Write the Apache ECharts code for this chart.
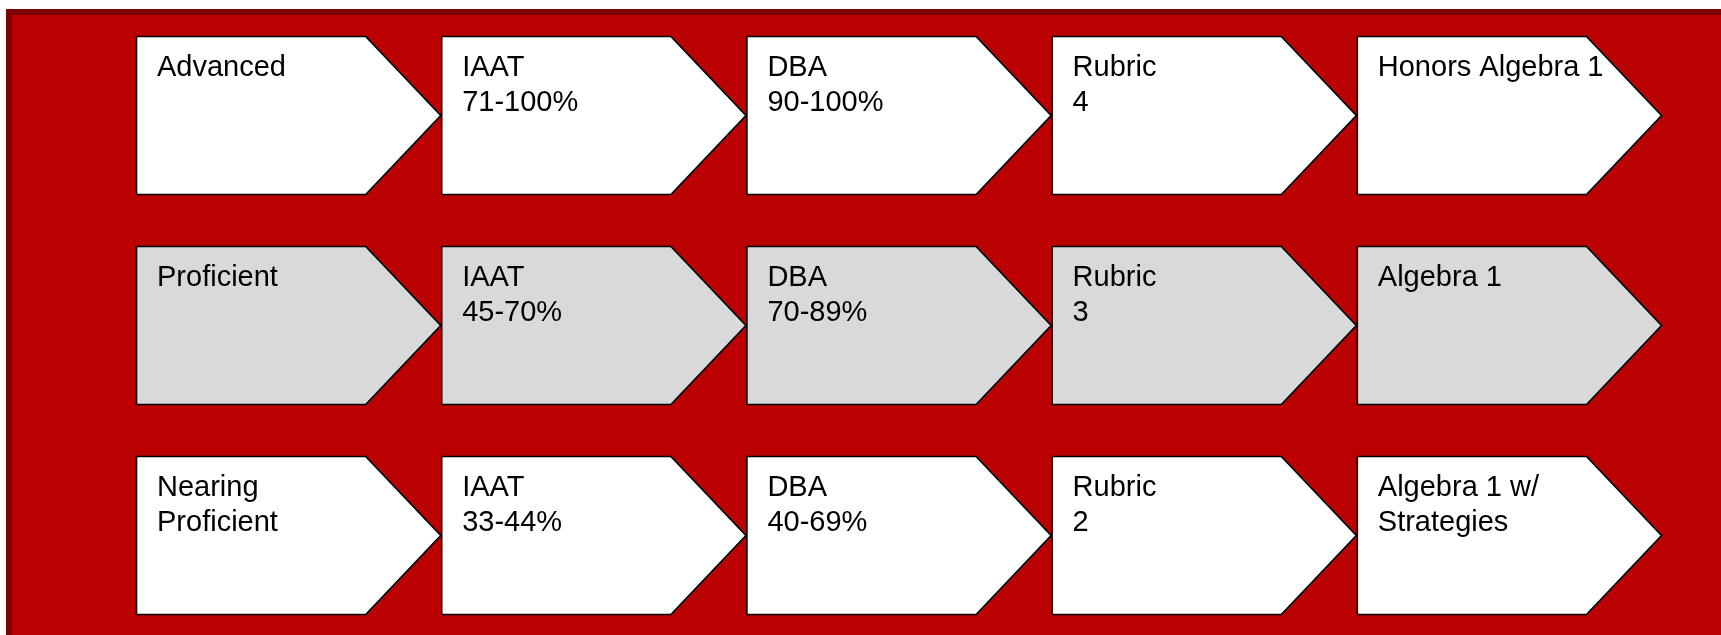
<!DOCTYPE html>
<html>
<head>
<meta charset="utf-8">
<style>
  html, body { margin: 0; padding: 0; background: #ffffff; }
  #chart { width: 1721px; height: 635px; }
</style>
<script src="https://cdn.jsdelivr.net/npm/echarts@6/dist/echarts.min.js"></script>
</head>
<body>
<div id="chart"></div>
<script>
// ---- data ----
const levels = ['Advanced', 'Proficient', 'Nearing\nProficient'];
const iaatRanges = ['71-100%', '45-70%', '33-44%'];
const dbaRanges = ['90-100%', '70-89%', '40-69%'];
const rubricScores = ['4', '3', '2'];
const courses = ['Honors Algebra 1', 'Algebra 1', 'Algebra 1 w/\nStrategies'];
const stepTitles = ['', 'IAAT', 'DBA', 'Rubric', ''];

// ---- styles ----
const rowFills = ['#FFFFFF', '#D9D9D9', '#FFFFFF'];

const data = [];
levels.forEach(function (lvl, r) {
  const cols = [
    lvl,
    stepTitles[1] + '\n' + iaatRanges[r],
    stepTitles[2] + '\n' + dbaRanges[r],
    stepTitles[3] + '\n' + rubricScores[r],
    courses[r]
  ];
  cols.forEach(function (txt, c) { data.push([c, r, txt]); });
});

const chart = echarts.init(document.getElementById('chart'), null, { renderer: 'canvas' });

const option = {
  backgroundColor: '#ffffff',
  animation: false,
  graphic: [
    { type: 'rect', silent: true, z: -10, shape: { x: 6, y: 9, width: 1715, height: 626 }, style: { fill: '#7E0000' } },
    { type: 'rect', silent: true, z: -9, shape: { x: 12, y: 15, width: 1709, height: 620 }, style: { fill: '#BA0000' } }
  ],
  grid: { left: 136.5, right: 363.7, top: 115.5, bottom: 99.5 },
  xAxis: { type: 'value', min: 0, max: 4, show: false },
  yAxis: { type: 'value', min: 0, max: 2, inverse: true, show: false },
  series: [{
    type: 'custom',
    clip: false,
    data: data,
    encode: { x: 0, y: 1 },
    renderItem: function (params, api) {
      const c = api.value(0), r = api.value(1);
      const p = api.coord([c, r]);
      const w = api.size([1, 0])[0] - 1;
      const h = api.size([0, 0.752])[1];
      const d = h * 0.475;
      const x = p[0], y = p[1];
      const pts = [
        [x, y - h / 2],
        [x + w - d, y - h / 2],
        [x + w, y],
        [x + w - d, y + h / 2],
        [x, y + h / 2]
      ];
      return {
        type: 'group',
        children: [
          {
            type: 'polygon',
            shape: { points: pts },
            style: { fill: rowFills[r], stroke: '#000000', lineWidth: 1.6, lineJoin: 'miter' }
          },
          {
            type: 'text',
            x: x + 20.5,
            y: y - h / 2 + 14,
            style: {
              text: data[params.dataIndex][2],
              fill: '#000000',
              font: '29px "Liberation Sans", Arial, sans-serif',
              lineHeight: 35,
              align: 'left',
              verticalAlign: 'top'
            }
          }
        ]
      };
    }
  }]
};

chart.setOption(option);
</script>
</body>
</html>
